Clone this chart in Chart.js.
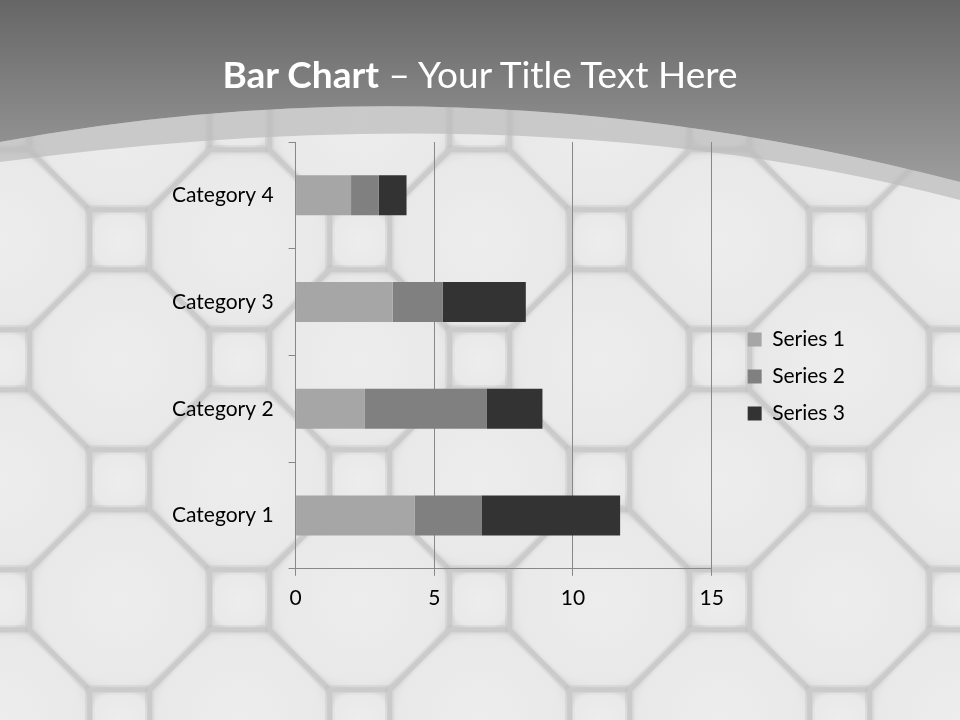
<!DOCTYPE html>
<html>
<head>
  <meta charset="utf-8">
  <title>Bar Chart</title>
  <script src="https://cdn.jsdelivr.net/npm/chart.js@4.4.1/dist/chart.umd.min.js"></script>
  <style>
    html, body { margin: 0; padding: 0; width: 960px; height: 720px; overflow: hidden; background: #e8e8e8; }
    #bg, #chart { position: absolute; left: 0; top: 0; }
    #title {
      position: absolute; left: 0; top: 56px; width: 960px;
      text-align: center; color: #fff; font-family: Lato, sans-serif;
      font-size: 37px; line-height: 36px;
    }
  </style>
</head>
<body>
  <canvas id="bg" width="960" height="720"></canvas>
  <canvas id="chart" width="960" height="720"></canvas>
  <div id="title"><b>Bar Chart</b> – Your Title Text Here</div>
<script>
  var categories = ['Category 1', 'Category 2', 'Category 3', 'Category 4'];
  var seriesNames = ['Series 1', 'Series 2', 'Series 3'];
  var series1 = [4.3, 2.5, 3.5, 2];
  var series2 = [2.4, 4.4, 1.8, 1];
  var series3 = [5, 2, 3, 1];
  var xMin = 0, xMax = 15, xStep = 5;

  // background: octagon tiles + grey header with curve
  var bg = document.getElementById('bg').getContext('2d');
  bg.fillStyle = '#cbcbcb';
  bg.fillRect(0, 0, 960, 720);

  function tile(cx, cy, octo) {
    bg.beginPath();
    if (octo) {
      var p = [[90, -30], [90, 30], [30, 90], [-30, 90], [-90, 30], [-90, -30], [-30, -90], [30, -90]];
      bg.moveTo(cx + p[0][0], cy + p[0][1]);
      for (var k = 1; k < p.length; k++) bg.lineTo(cx + p[k][0], cy + p[k][1]);
    } else {
      bg.rect(cx - 30, cy - 30, 60, 60);
    }
    bg.closePath();
    var g = bg.createRadialGradient(cx, cy, 0, cx, cy, octo ? 95 : 34);
    g.addColorStop(0, '#ededed');
    g.addColorStop(0.85, '#e9e9e9');
    g.addColorStop(1, '#dedede');
    bg.fillStyle = g;
    bg.fill();
    bg.lineWidth = 10;
    bg.strokeStyle = 'rgba(0,0,0,0.025)';
    bg.stroke();
    bg.lineWidth = 5;
    bg.strokeStyle = '#cbcbcb';
    bg.stroke();
  }
  for (var i = -2; i <= 9; i++) {
    for (var j = -6; j <= 2; j++) {
      tile(120 + 120 * i, 600 + 120 * j, (i + j) % 2 === 0);
    }
  }

  // translucent band
  bg.beginPath();
  bg.moveTo(0, 142);
  bg.quadraticCurveTo(470, 54, 960, 182);
  bg.lineTo(960, 200);
  bg.quadraticCurveTo(540, 90, 0, 162);
  bg.closePath();
  bg.fillStyle = 'rgba(190,190,190,0.75)';
  bg.fill();

  // header
  bg.beginPath();
  bg.moveTo(0, 0);
  bg.lineTo(960, 0);
  bg.lineTo(960, 182);
  bg.quadraticCurveTo(470, 54, 0, 142);
  bg.closePath();
  var hg = bg.createLinearGradient(0, 0, 0, 180);
  hg.addColorStop(0, '#666666');
  hg.addColorStop(1, '#9c9c9c');
  bg.fillStyle = hg;
  bg.fill();

  // nudges the right legend away from the plot
  var legendShift = {
    id: 'legendShift',
    afterLayout: function (chart) {
      chart.legend.left += 20;
      chart.legend.right += 20;
      chart.legend.top -= 5;
      chart.legend.bottom -= 5;
    }
  };

  var font = { family: 'Lato', size: 21 };
  var ctx = document.getElementById('chart');
  var chart = new Chart(ctx, {
    type: 'bar',
    data: {
      labels: categories,
      datasets: [
        { label: seriesNames[0], data: series1, backgroundColor: '#a6a6a6' },
        { label: seriesNames[1], data: series2, backgroundColor: '#808080' },
        { label: seriesNames[2], data: series3, backgroundColor: '#333333' }
      ]
    },
    plugins: [legendShift],
    options: {
      indexAxis: 'y',
      responsive: false,
      animation: false,
      datasets: { bar: { categoryPercentage: 1, barPercentage: 0.375 } },
      layout: { padding: { left: 157, top: 142, right: 125, bottom: 99 } },
      plugins: {
        title: { display: false },
        tooltip: { enabled: false },
        legend: {
          position: 'right',
          labels: { boxWidth: 14, boxHeight: 14, padding: 16, color: '#000', font: font }
        }
      },
      scales: {
        x: {
          stacked: true, min: xMin, max: xMax,
          ticks: { stepSize: xStep, color: '#000', font: font, padding: 10 },
          grid: { color: '#888', tickLength: 7 },
          border: { color: '#888' }
        },
        y: {
          stacked: true, reverse: true,
          ticks: { color: '#000', font: font, padding: 15 },
          grid: { drawOnChartArea: false, color: '#888', tickLength: 7, offset: true },
          border: { color: '#888' }
        }
      }
    }
  });
</script>
</body>
</html>
